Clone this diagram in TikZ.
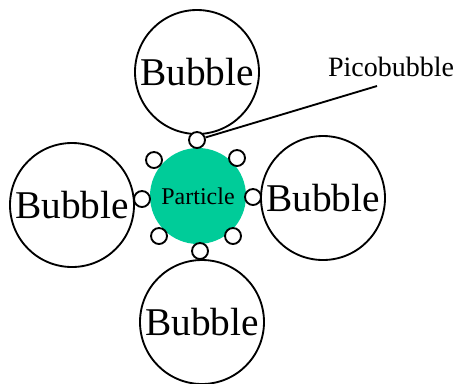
\documentclass[tikz,border=0pt]{standalone}
\usepackage{fontspec}
\setmainfont{Liberation Serif}
\usetikzlibrary{positioning}
\definecolor{particlegreen}{HTML}{00CC99}
\tikzset{
  bubble/.style={circle,draw=black,fill=white,line width=1.4pt,inner sep=0pt,minimum size=93pt,font=\fontsize{29.5}{32}\selectfont},
  particle/.style={circle,fill=particlegreen,inner sep=0pt,minimum size=72pt,font=\fontsize{18}{20}\selectfont},
  pico/.style={circle,draw=black,fill=white,line width=1.4pt,inner sep=0pt,minimum size=12pt},
  label/.style={font=\fontsize{21}{24}\selectfont,inner sep=0pt},
  leader/.style={draw=black,line width=1.4pt}
}
\begin{document}
\begin{tikzpicture}[x=0.75pt,y=-0.75pt]
\path[use as bounding box] (0,0) rectangle (457,383);
% bubbles
\node[bubble] (top) at (197,72) {Bubble};
\node[bubble] (left) at (72,205) {Bubble};
\node[bubble] (right) at (323,198) {Bubble};
\node[bubble] (bottom) at (202,322) {Bubble};
% particle
\node[particle] (part) at (198,196) {Particle};
% picobubbles
\foreach \nm/\px/\py in {pt/197/140,pul/154/160,pur/237/158,pl/142/199,pr/253/197,pll/159/236,plr/233/236,pb/200/251}{
  \node[pico] (\nm) at (\px,\py) {};
}
% label
\node[label] (picolbl) at (391,67) {Picobubble};
\coordinate (lblend) at (377,86);
\draw[leader] (pt) -- (lblend);
\end{tikzpicture}
\end{document}
